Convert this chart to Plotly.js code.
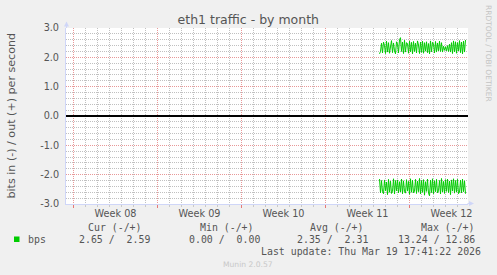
<!DOCTYPE html>
<html>
<head>
<meta charset="utf-8">
<script src="https://cdn.plot.ly/plotly-3.0.1.min.js"></script>
<style>html,body{margin:0;padding:0;background:#f0f0f0;}#chart{width:497px;height:275px;}</style>
</head>
<body>
<div id="chart"></div>
<script>
// ---- data ----
const chartTitle = 'eth1 traffic - by month';
const yTitle = 'bits in (-) / out (+) per second';
const seriesName = 'bps';
const xRange = ['2026-02-15 09:00', '2026-03-20 21:00'];
const weekStarts = ['2026-02-16', '2026-02-23', '2026-03-02', '2026-03-09', '2026-03-16'];
const weekMids = ['2026-02-19 12:00', '2026-02-26 12:00', '2026-03-05 12:00', '2026-03-12 12:00', '2026-03-19 12:00'];
const weekLabels = ['Week 08', 'Week 09', 'Week 10', 'Week 11', 'Week 12'];
const yTickVals = [-3, -2, -1, 0, 1, 2, 3];
const yTickText = ['-3.0', '-2.0', '-1.0', '0.0', '1.0', '2.0', '3.0'];
const dataStart = '2026-03-13 12:00';
const stepHours = 2;
const outValues = [2.12, 2.20, 2.48, 2.15, 2.52, 2.40, 2.13, 2.55, 2.18, 2.50, 2.14, 2.46, 2.57, 2.16, 2.49, 2.22, 2.12, 2.53, 2.45, 2.15,
  2.60, 2.67, 2.20, 2.52, 2.13, 2.58, 2.18, 2.50, 2.47, 2.14, 2.55, 2.19, 2.51, 2.12, 2.54, 2.20, 2.48, 2.15, 2.56, 2.42,
  2.13, 2.52, 2.17, 2.55, 2.14, 2.50, 2.21, 2.53, 2.16, 2.47, 2.12, 2.56, 2.19, 2.51, 2.45, 2.15, 2.54, 2.18, 2.49, 2.22,
  2.55, 2.20, 2.50, 2.18, 2.38, 2.24, 2.36, 2.22, 2.40, 2.20, 2.45, 2.18, 2.50, 2.13, 2.56, 2.19, 2.53, 2.14, 2.50, 2.22,
  2.57, 2.16, 2.52, 2.12, 2.55, 2.18, 2.59];
const inValues = [2.15, 2.62, 2.20, 2.58, 2.65, 2.18, 2.55, 2.25, 2.68, 2.16, 2.60, 2.22, 2.64, 2.57, 2.14, 2.66, 2.20, 2.55, 2.18, 2.62,
  2.24, 2.59, 2.15, 2.65, 2.21, 2.58, 2.63, 2.17, 2.56, 2.23, 2.67, 2.14, 2.60, 2.19, 2.62, 2.56, 2.16, 2.64, 2.22, 2.58,
  2.13, 2.66, 2.20, 2.60, 2.17, 2.70, 2.24, 2.57, 2.15, 2.63, 2.72, 2.19, 2.61, 2.14, 2.65, 2.21, 2.58, 2.16, 2.62, 2.55,
  2.20, 2.66, 2.13, 2.59, 2.23, 2.64, 2.17, 2.57, 2.15, 2.61, 2.22, 2.68, 2.18, 2.56, 2.14, 2.63, 2.20, 2.59, 2.16, 2.65,
  2.60, 2.19, 2.62, 2.15, 2.58, 2.21, 2.65];
const statHeaders = ['Cur (-/+)', 'Min (-/+)', 'Avg (-/+)', 'Max (-/+)'];
const statIn = [2.65, 0.00, 2.35, 13.24];
const statOut = [2.59, 0.00, 2.31, 12.86];
const lastUpdate = 'Last update: Thu Mar 19 17:41:22 2026';
const watermark = 'Munin 2.0.57';
const sideText = 'RRDTOOL / TOBI OETIKER';

// ---- build ----
const W = 497, H = 275;
const M = {l: 66, r: 29, t: 28, b: 71};
const PW = W - M.l - M.r, PH = H - M.t - M.b;
const px = x => (x - M.l) / PW;          // pixel -> paper x
const py = y => (H - M.b - y) / PH;      // pixel -> paper y

const t0 = Date.parse(dataStart.replace(' ', 'T') + ':00Z');
const times = outValues.map((_, i) => t0 + i * stepHours * 3600000);

const GREEN = '#00cc00';
const FONT = 'DejaVu Sans, Verdana, sans-serif';
const MONO = 'DejaVu Sans Mono, monospace';
const TXT = '#555555';
const MGRID = 'rgb(232,152,152)';
const GRID = 'rgb(192,192,192)';
const AXIS = '#cfd6f8';

const traces = [
  {x: times, y: outValues, type: 'scatter', mode: 'lines', line: {color: GREEN, width: 1}, hoverinfo: 'skip', showlegend: false},
  {x: times, y: inValues.map(v => -v), type: 'scatter', mode: 'lines', line: {color: GREEN, width: 1}, hoverinfo: 'skip', showlegend: false},
  {x: weekMids, y: weekMids.map(() => null), xaxis: 'x2', type: 'scatter', mode: 'lines', hoverinfo: 'skip', showlegend: false}
];

const nb = s => s.replace(/ /g, '\u00a0');
const pad = (v, n) => { let s = v.toFixed(2); while (s.length < n) s = ' ' + s; return s; };

const headerRight = [143.5, 255.5, 366.2, 477.2];
const valueRight = [152.3, 261.6, 370.0, 477.3];

const annotations = [];
// y title
annotations.push({xref: 'paper', yref: 'paper', x: px(10.5), y: py(116), text: yTitle, showarrow: false, textangle: -90,
  xanchor: 'center', yanchor: 'middle', font: {family: FONT, size: 11.1, color: TXT}});
// side text
annotations.push({xref: 'paper', yref: 'paper', x: px(488.5), y: py(53.5), text: sideText, showarrow: false, textangle: 90,
  xanchor: 'center', yanchor: 'middle', font: {family: FONT, size: 7.5, color: '#c4c4c4'}});
// legend rows
statHeaders.forEach((h, i) => {
  annotations.push({xref: 'paper', yref: 'paper', x: px(headerRight[i]), y: py(228), text: nb(h), showarrow: false,
    xanchor: 'right', yanchor: 'middle', font: {family: MONO, size: 9.9, color: TXT}});
  const v = (pad(statIn[i], 6) + ' /' + pad(statOut[i], 6)).trim();
  annotations.push({xref: 'paper', yref: 'paper', x: px(valueRight[i]), y: py(239.5), text: nb(v), showarrow: false,
    xanchor: 'right', yanchor: 'middle', font: {family: MONO, size: 9.9, color: TXT}});
});
annotations.push({xref: 'paper', yref: 'paper', x: px(26), y: py(239.5), text: seriesName, showarrow: false,
  xanchor: 'left', yanchor: 'middle', font: {family: MONO, size: 9.9, color: TXT}});
annotations.push({xref: 'paper', yref: 'paper', x: px(483.3), y: py(251.5), text: nb(lastUpdate), showarrow: false,
  xanchor: 'right', yanchor: 'middle', font: {family: MONO, size: 9.9, color: TXT}});
annotations.push({xref: 'paper', yref: 'paper', x: px(248), y: py(264.3), text: watermark, showarrow: false,
  xanchor: 'center', yanchor: 'middle', font: {family: FONT, size: 7.6, color: '#c8c8c8'}});
// axis arrows
annotations.push({xref: 'paper', yref: 'paper', x: px(66.5), y: py(21.5), ax: 0, ay: 8, text: '', showarrow: true,
  arrowhead: 2, arrowsize: 1, arrowwidth: 1, arrowcolor: AXIS, standoff: 0});
annotations.push({xref: 'paper', yref: 'paper', x: px(474), y: py(203.5), ax: -8, ay: 0, text: '', showarrow: true,
  arrowhead: 2, arrowsize: 1, arrowwidth: 1, arrowcolor: AXIS, standoff: 0});

const shapes = [
  {type: 'rect', xref: 'paper', yref: 'paper', x0: px(14), x1: px(19.5), y0: py(242), y1: py(236.5),
    fillcolor: GREEN, line: {width: 0}}
];

const layout = {
  width: W, height: H,
  margin: M,
  paper_bgcolor: '#f0f0f0',
  plot_bgcolor: '#ffffff',
  showlegend: false,
  title: {text: chartTitle, x: 248.3 / W, xref: 'container', xanchor: 'center', y: 1 - 19.5 / H, yref: 'container', yanchor: 'middle',
    font: {family: FONT, size: 12.5, color: TXT}},
  xaxis: {
    type: 'date', range: xRange, fixedrange: true,
    tickmode: 'array', tickvals: weekStarts, showticklabels: false,
    showgrid: true, gridcolor: MGRID, griddash: '1px,1px', gridwidth: 1,
    ticks: 'outside', ticklen: 3, tickcolor: 'rgb(230,120,120)', tickwidth: 1,
    minor: {tickmode: 'linear', tick0: '2026-02-16', dtick: 86400000, showgrid: true, gridcolor: GRID, griddash: '1px,1px',
      ticks: 'outside', ticklen: 2, tickcolor: '#c8c8c8'},
    showline: true, linecolor: AXIS, linewidth: 1, zeroline: false
  },
  xaxis2: {
    type: 'date', range: xRange, fixedrange: true, overlaying: 'x', anchor: 'y', side: 'bottom',
    tickmode: 'array', tickvals: weekMids, ticktext: weekLabels,
    showgrid: false, ticks: '', showline: false, zeroline: false,
    ticklabelstandoff: 2,
    tickfont: {family: FONT, size: 9.7, color: TXT}
  },
  yaxis: {
    range: [-3, 3], fixedrange: true,
    tickmode: 'array', tickvals: yTickVals, ticktext: yTickText,
    showgrid: true, gridcolor: MGRID, griddash: '1px,1px', gridwidth: 1,
    minor: {tickmode: 'linear', tick0: 0, dtick: 0.2, showgrid: true, gridcolor: GRID, griddash: '1px,1px'},
    ticks: '', ticklabelstandoff: 4,
    showline: true, linecolor: AXIS, linewidth: 1,
    zeroline: true, zerolinecolor: '#000000', zerolinewidth: 2,
    tickfont: {family: FONT, size: 9.7, color: TXT}
  },
  annotations: annotations,
  shapes: shapes
};

Plotly.newPlot('chart', traces, layout, {staticPlot: true, displayModeBar: false});
</script>
</body>
</html>
